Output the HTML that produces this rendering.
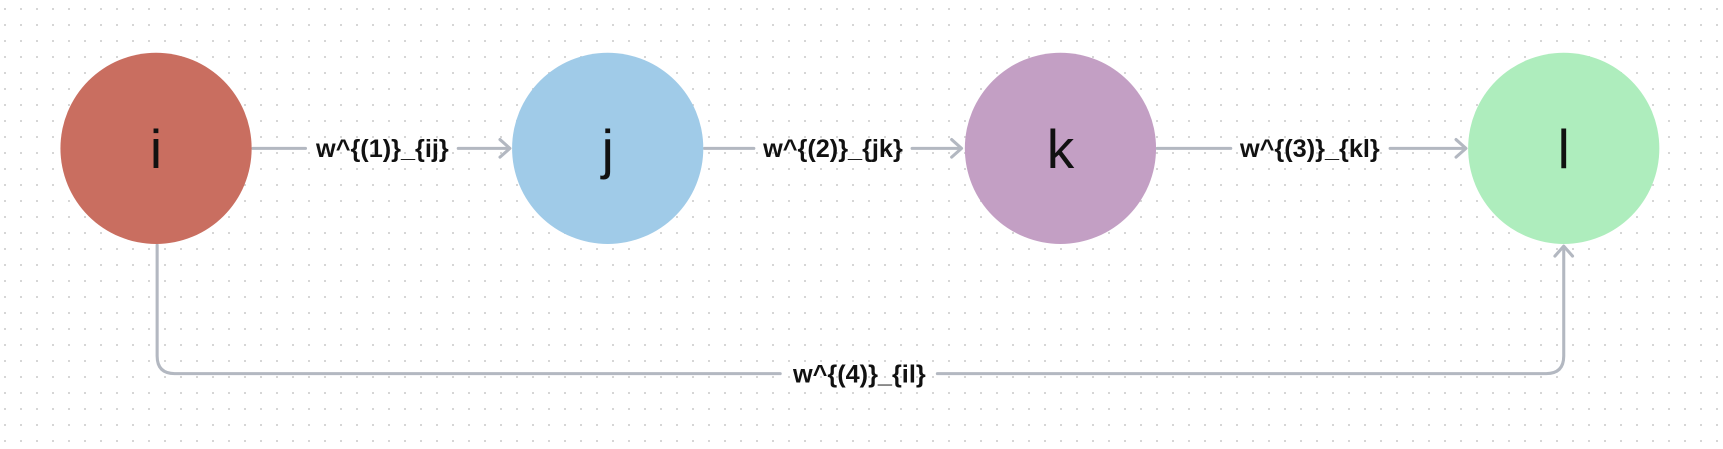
<!DOCTYPE html>
<html><head><meta charset="utf-8"><style>
html,body{margin:0;padding:0;background:#fff}
svg{display:block}
text{font-family:"Liberation Sans","DejaVu Sans",sans-serif}
</style></head><body>
<svg width="1723" height="449" viewBox="0 0 1723 449" xmlns="http://www.w3.org/2000/svg">
<defs>
<pattern id="dots" x="4" y="8" width="16" height="16" patternUnits="userSpaceOnUse">
<rect x="0" y="0" width="2" height="2" fill="#d6d6d6"/>
</pattern>
</defs>
<rect width="1723" height="449" fill="url(#dots)"/>
<g transform="scale(1.0989)">
<g stroke="#b3b8c1" stroke-width="2.8" fill="none" stroke-linecap="round" stroke-linejoin="round">
<path d="M230 135 H278 M417 135 H463"/>
<path d="M455 127 L464 135 L455 143"/>
<path d="M641 135 H686 M830 135 H874"/>
<path d="M866 127 L875 135 L866 143"/>
<path d="M1053 135 H1120 M1265 135 H1333"/>
<path d="M1325 127 L1334 135 L1325 143"/>
<path d="M143 223 V324 Q143 340 159 340 H710 M853 340 H1407 Q1423 340 1423 324 V225"/>
<path d="M1415 233 L1423 224 L1431 233"/>
</g>
<circle cx="142" cy="135" r="87" fill="#c96e60"/>
<circle cx="553" cy="135" r="87" fill="#a0cbe8"/>
<circle cx="965" cy="135" r="87" fill="#c39fc4"/>
<circle cx="1423" cy="135" r="87" fill="#aeedbd"/>
<g font-size="50" fill="#111" text-anchor="middle">
<text x="142" y="153">i</text>
<text x="553" y="153">j</text>
<text x="965" y="153">k</text>
<text x="1423" y="153">l</text>
</g>
<g font-size="23" font-weight="bold" fill="#111" text-anchor="middle">
<text x="348" y="143">w^{(1)}_{ij}</text>
<text x="758" y="143">w^{(2)}_{jk}</text>
<text x="1192" y="143">w^{(3)}_{kl}</text>
<text x="782" y="348">w^{(4)}_{il}</text>
</g>
</g>
</svg>
</body></html>
